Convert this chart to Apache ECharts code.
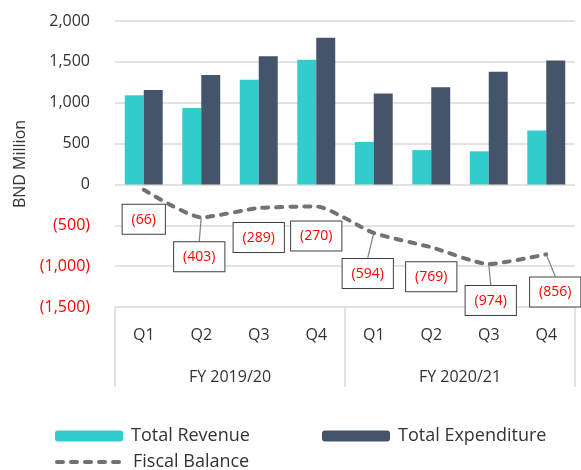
<!DOCTYPE html>
<html>
<head>
<meta charset="utf-8">
<script src="https://cdn.jsdelivr.net/npm/echarts@6/dist/echarts.min.js"></script>
<style>
  html, body { margin: 0; padding: 0; background: #fff; }
  #chart { width: 581px; height: 470px; }
</style>
</head>
<body>
<div id="chart"></div>
<script>
const quarters = ["Q1", "Q2", "Q3", "Q4", "Q1", "Q2", "Q3", "Q4"];
const fiscalYears = ["FY 2019/20", "FY 2020/21"];
const totalRevenue = [1090, 935, 1280, 1525, 520, 420, 405, 660];
const totalExpenditure = [1156, 1338, 1569, 1795, 1114, 1189, 1379, 1516];
const fiscalBalance = [-66, -403, -289, -270, -594, -769, -974, -856];

// label nudges (px) and which labels get a leader line
const labelShift = [[0, 0], [-2, 10], [0, 0], [0, 0], [-6, 11], [0, 0], [2, 7], [9, 8]];
const leaderLine = [false, true, false, false, true, false, true, true];

const font = "'Open Sans', 'Noto Sans', sans-serif";
const textColor = "#333333";
const gridColor = "#D9D9D9";
const balanceLine = { color: "#767171", width: 4, type: [6, 8], cap: "round" };

function fmt(v) {
    const s = Math.abs(v).toLocaleString("en-US");
    return v < 0 ? "(" + s + ")" : s;
}

const legendText = { fontSize: 18, color: textColor, fontFamily: font, padding: [0, 0, 0, 3] };

const chart = echarts.init(document.getElementById("chart"));

chart.setOption({
    animation: false,
    textStyle: { fontFamily: font },
    grid: { left: 115, right: 6, top: 21, bottom: 163 },
    legend: [
        {
            data: ["Total Revenue"], left: 55, top: 427, padding: 0,
            itemWidth: 68, itemHeight: 11, textStyle: legendText
        },
        {
            data: ["Total Expenditure"], left: 322, top: 427, padding: 0,
            itemWidth: 68, itemHeight: 11, textStyle: legendText
        },
        {
            data: ["Fiscal Balance"], left: 55, top: 453, padding: 0,
            itemWidth: 68, itemHeight: 11, textStyle: legendText,
            lineStyle: balanceLine, itemStyle: { color: "rgba(0,0,0,0)" }
        }
    ],
    xAxis: [
        {
            type: "category",
            data: quarters,
            position: "bottom",
            axisLine: { show: false },
            axisTick: { show: false },
            axisLabel: { fontSize: 16, color: textColor, margin: 20, fontFamily: font }
        },
        {
            type: "category",
            data: fiscalYears,
            position: "bottom",
            axisLine: { show: false },
            axisTick: { show: true, length: 80, interval: 0, lineStyle: { color: gridColor, width: 1.5 } },
            axisLabel: { fontSize: 16, color: textColor, margin: 62, fontFamily: font }
        }
    ],
    yAxis: {
        type: "value",
        min: -1500,
        max: 2000,
        interval: 500,
        name: "BND Million",
        nameLocation: "middle",
        nameGap: 86,
        nameTextStyle: { fontSize: 16, color: textColor, fontFamily: font },
        axisLine: { show: false },
        axisTick: { show: false },
        splitLine: { lineStyle: { color: gridColor, width: 1.5 } },
        axisLabel: {
            fontSize: 16,
            margin: 25,
            fontFamily: font,
            formatter: fmt,
            color: (v) => (Number(v) < 0 ? "#FF0000" : textColor)
        }
    },
    series: [
        {
            name: "Total Revenue",
            type: "bar",
            data: totalRevenue,
            barGap: "0%",
            barCategoryGap: "34%",
            itemStyle: { color: "#33CCCC" }
        },
        {
            name: "Total Expenditure",
            type: "bar",
            data: totalExpenditure,
            itemStyle: { color: "#44546A" }
        },
        {
            name: "Fiscal Balance",
            type: "line",
            data: fiscalBalance.map((v, i) => ({ value: v, labelLine: { show: leaderLine[i] } })),
            smooth: 0.2,
            symbol: "circle",
            symbolSize: 2,
            itemStyle: { color: "rgba(0,0,0,0)" },
            z: 5,
            lineStyle: balanceLine,
            label: {
                show: true,
                position: "bottom",
                distance: 14,
                formatter: (p) => fmt(p.value),
                color: "#FF0000",
                fontSize: 14,
                fontFamily: font,
                backgroundColor: "#FFFFFF",
                borderColor: "#404040",
                borderWidth: 1,
                padding: [8, 9, 7, 9]
            },
            labelLine: { lineStyle: { color: "#7F7F7F", width: 1.2 } },
            labelLayout: (p) => ({ dx: labelShift[p.dataIndex][0], dy: labelShift[p.dataIndex][1] })
        }
    ]
});
</script>
</body>
</html>
